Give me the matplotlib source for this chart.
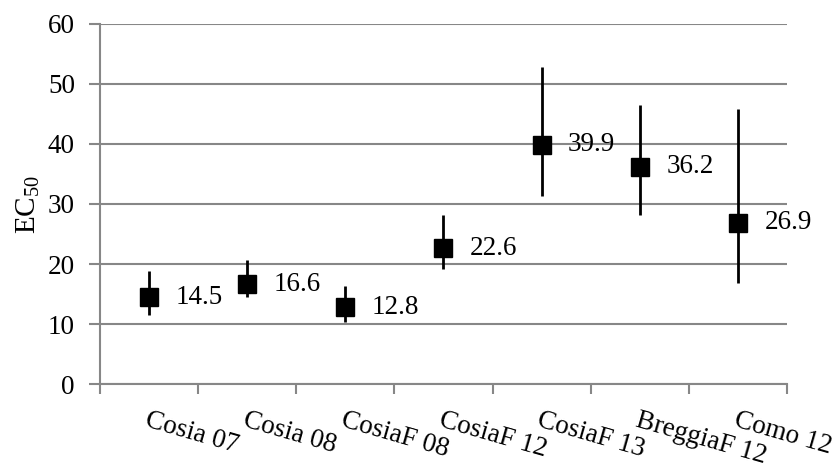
import matplotlib
matplotlib.use("Agg")
import matplotlib.pyplot as plt
import numpy as np

categories = ["Cosia 07", "Cosia 08", "CosiaF 08", "CosiaF 12", "CosiaF 13", "BreggiaF 12", "Como 12"]
ec50 = [14.5, 16.6, 12.8, 22.6, 39.9, 36.2, 26.9]
upper = [18.9, 20.6, 16.4, 28.2, 52.8, 46.5, 45.8]
lower = [11.5, 14.5, 10.4, 19.1, 31.3, 28.1, 16.8]
yticks = [0, 10, 20, 30, 40, 50, 60]

plt.rcParams['font.family'] = ['Liberation Serif', 'DejaVu Serif']
plt.rcParams['mathtext.default'] = 'regular'

grey = '#878787'
fig = plt.figure(figsize=(8.34, 4.63), dpi=100)
ax = fig.add_axes([0.1199, 0.1706, 0.8237, 0.7776])

x = np.arange(1, len(categories) + 1)
y = np.array(ec50)
yerr = np.array([y - np.array(lower), np.array(upper) - y])

ax.errorbar(x, y, yerr=yerr, fmt='none', ecolor='black', elinewidth=2.0, capsize=0, zorder=3)
ax.plot(x, y, linestyle='none', marker='s', markersize=13.5, color='black', zorder=4)

for xi, yi in zip(x, ec50):
    ax.annotate(f"{yi:.1f}", (xi, yi), xytext=(19, 0), textcoords='offset points',
                ha='left', va='center', fontsize=19.5, zorder=5)

ax.set_ylim(0, 60)
ax.set_xlim(0.5, len(categories) + 0.5)
ax.set_yticks(yticks)
ax.set_yticklabels([str(t) for t in yticks])
ax.yaxis.grid(True, color=grey, linewidth=1.5)
ax.set_axisbelow(True)

ax.set_xticks(x)
ax.set_xticklabels(categories, rotation=-16, ha='left', va='top', rotation_mode='anchor')
ax.set_xticks(np.arange(0.5, len(categories) + 1, 1.0), minor=True)
ax.tick_params(axis='x', which='major', length=0, pad=17, labelsize=19.5)
ax.tick_params(axis='x', which='minor', length=7, width=1.5, color=grey, direction='out')
ax.tick_params(axis='y', length=8, width=1.5, color=grey, direction='out', pad=10, labelsize=19.5)

for s in ['top', 'right']:
    ax.spines[s].set_visible(False)
for s in ['left', 'bottom']:
    ax.spines[s].set_color(grey)
    ax.spines[s].set_linewidth(1.5)

ax.set_ylabel("EC$_{50}$", fontsize=21)
ax.yaxis.set_label_coords(-0.085, 0.5)

fig.savefig("out.png", dpi=100)
